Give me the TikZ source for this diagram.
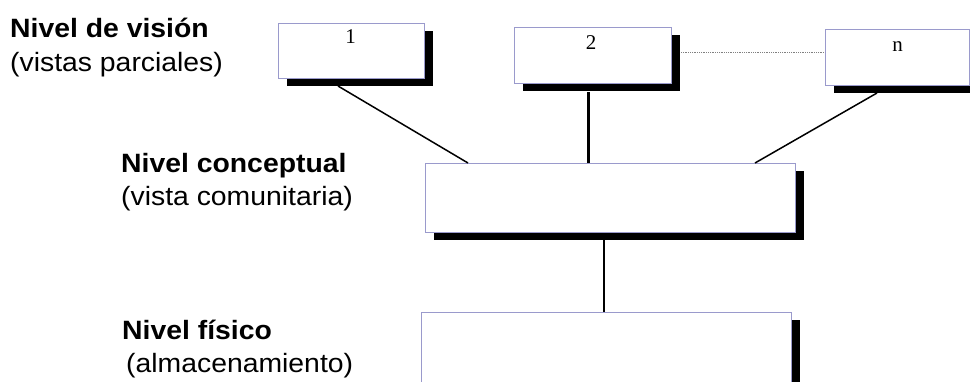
\documentclass[tikz,border=0pt]{standalone}
\usepackage{fontspec}
\setmainfont{Liberation Sans}[FakeStretch=1.07]
\newfontfamily\numfont{Liberation Serif}
\usetikzlibrary{shadows,calc}
\definecolor{boxedge}{HTML}{9A9ACC}
\tikzset{
  lvlbox/.style={draw=boxedge, line width=1pt, fill=white, rectangle, inner sep=0pt, anchor=north west,
    general shadow={fill=black, shadow xshift=8pt, shadow yshift=-7pt}},
  title/.style={inner sep=0pt, anchor=base west, font=\fontsize{26.5}{30}\selectfont\bfseries},
  sub/.style={inner sep=0pt, anchor=base west, font=\fontsize{26.5}{30}\selectfont},
  num/.style={inner sep=0pt, anchor=base, font=\numfont\fontsize{21}{24}\selectfont},
  conn/.style={line width=1.5pt, black}
}
\begin{document}
\begin{tikzpicture}[x=1pt,y=-1pt]
\useasboundingbox (0,0) rectangle (970,381);
\clip (0,0) rectangle (970,381);

% labels
\node[title] (l1a) at (10,37) {Nivel de visión};
\node[sub]   (l1b) at (10,71.5) {(vistas parciales)};
\node[title] (l2a) at (121,172) {Nivel conceptual};
\node[sub]   (l2b) at (121,205) {(vista comunitaria)};
\node[title] (l3a) at (122,339) {Nivel físico};
\node[sub]   (l3b) at (126,372) {(almacenamiento)};

% boxes
\node[lvlbox, minimum width=146pt, minimum height=55pt] (b1) at (278,23) {};
\node[lvlbox, minimum width=157pt, minimum height=56pt] (b2) at (514,27) {};
\node[lvlbox, minimum width=144pt, minimum height=56pt] (bn) at (825,29) {};
\node[lvlbox, minimum width=370pt, minimum height=69pt] (c) at (425,163) {};
\node[lvlbox, minimum width=370pt, minimum height=69.5pt] (p) at (421,312) {};

% numbers
\node[num] (t1) at ($(b1.north)+(-1,20)$) {1};
\node[num] (t2) at ($(b2.north)+(-2,22)$) {2};
\node[num] (tn) at ($(bn.north)+(0,22.5)$) {n};

% connectors
\draw[densely dotted, line width=0.8pt, gray] ($(b2.north east)+(9,25)$) -- ($(bn.north west)+(0,23)$);
\draw[conn] ($(b1.south west)+(60,7)$) -- ($(c.north west)+(43,0)$);
\draw[line width=3pt] ($(c.north west)+(163,0)$) -- ($(b2.south west)+(74,8)$);
\draw[conn] ($(bn.south west)+(52,7)$) -- ($(c.north west)+(330,0)$);
\draw[line width=2pt] ($(c.south west)+(179,7)$) -- ($(p.north west)+(183,0)$);
\end{tikzpicture}
\end{document}
